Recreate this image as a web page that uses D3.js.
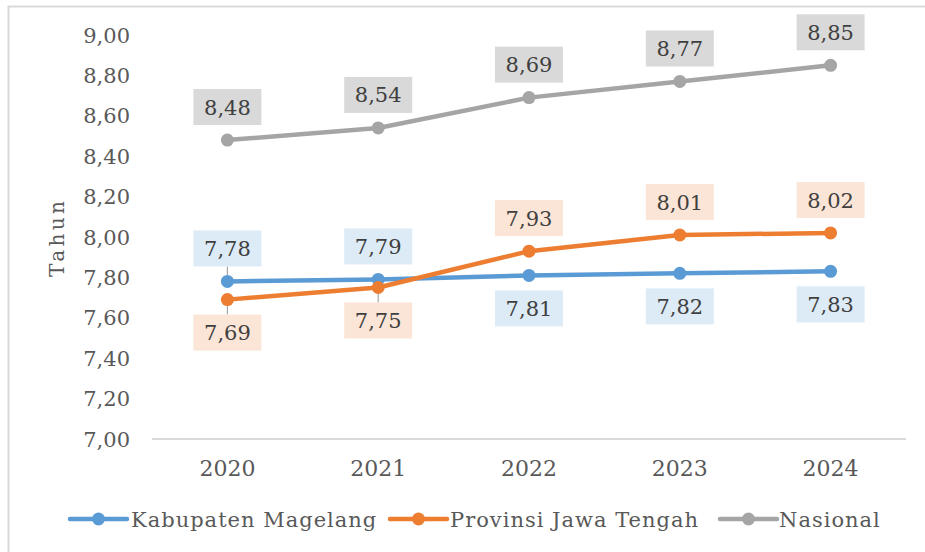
<!DOCTYPE html>
<html>
<head>
<meta charset="utf-8">
<script src="https://cdn.jsdelivr.net/npm/d3@7"></script>
<style>
  body { margin: 0; background: #fff; }
  svg { display: block; font-family: "DejaVu Serif", serif; }
</style>
</head>
<body>
<svg width="925" height="552"></svg>
<script>
var years = ["2020", "2021", "2022", "2023", "2024"];
var magelang = [7.78, 7.79, 7.81, 7.82, 7.83];
var jateng = [7.69, 7.75, 7.93, 8.01, 8.02];
var nasional = [8.48, 8.54, 8.69, 8.77, 8.85];
var yTicks = [7.0, 7.2, 7.4, 7.6, 7.8, 8.0, 8.2, 8.4, 8.6, 8.8, 9.0];

var series = [
  { name: "Kabupaten Magelang", values: magelang, color: "#5B9BD5", box: "#DDEBF7",
    place: ["up", "up", "down", "down", "down"],
    leader: [true, false, false, false, false] },
  { name: "Provinsi Jawa Tengah", values: jateng, color: "#ED7D31", box: "#FBE5D6",
    place: ["down", "down", "up", "up", "up"],
    leader: [true, true, false, false, false] },
  { name: "Nasional", values: nasional, color: "#A5A5A5", box: "#D9D9D9",
    place: ["up", "up", "up", "up", "up"],
    leader: [false, false, false, false, false] },
];

const svg = d3.select("svg");
const fmt = (v) => d3.format(".2f")(v).replace(".", ",");

// frame (only top and left edges show)
svg.append("path")
  .attr("d", "M 8.5 560 L 8.5 6.5 L 930 6.5")
  .attr("fill", "none")
  .attr("stroke", "#D9D9D9")
  .attr("stroke-width", 2);

var x = d3.scalePoint().domain(years).range([152, 906]).padding(0.5);
var y = d3.scaleLinear().domain([7, 9]).range([439, 35]);

// y tick labels
svg.append("g")
  .selectAll("text")
  .data(yTicks)
  .enter()
  .append("text")
  .attr("x", 130)
  .attr("y", (d) => y(d))
  .attr("dy", "0.36em")
  .attr("text-anchor", "end")
  .attr("font-size", 21)
  .attr("fill", "#595959")
  .text((d) => fmt(d));

// x axis line
svg.append("line")
  .attr("x1", 152).attr("x2", 906)
  .attr("y1", y(7)).attr("y2", y(7))
  .attr("stroke", "#D9D9D9")
  .attr("stroke-width", 2);

svg.append("g")
  .selectAll("text")
  .data(years)
  .enter()
  .append("text")
  .attr("x", (d) => x(d))
  .attr("y", 476)
  .attr("text-anchor", "middle")
  .attr("font-size", 22)
  .attr("fill", "#595959")
  .text((d) => d);

// axis title
svg.append("text")
  .attr("transform", "translate(64,239) rotate(-90)")
  .attr("text-anchor", "middle")
  .attr("font-size", 20)
  .attr("textLength", 76)
  .attr("lengthAdjust", "spacing")
  .attr("fill", "#595959")
  .text("Tahun");

var line = d3.line()
  .x((d, i) => x(years[i]))
  .y((d) => y(d));

var lines = svg.append("g");
series.forEach((s) => {
  lines.append("path")
    .attr("d", line(s.values))
    .attr("fill", "none")
    .attr("stroke", s.color)
    .attr("stroke-width", 4.5)
    .attr("stroke-linejoin", "round");
});

// data labels (leaders drawn before markers)
var labels = svg.append("g");
series.forEach((s) => {
  s.values.forEach((v, i) => {
    var cx = x(years[i]);
    var py = y(v);
    var off = s.place[i] === "up" ? -33 : 33;
    var cy = py + off;
    var w = 68, h = 36;
    var edge = s.place[i] === "up" ? cy + h / 2 : cy - h / 2;
    if (s.leader[i]) {
      labels.append("line")
        .attr("x1", cx).attr("x2", cx)
        .attr("y1", edge).attr("y2", py)
        .attr("stroke", "#A6A6A6")
        .attr("stroke-width", 1.2);
    }
    labels.append("rect")
      .attr("x", cx - w / 2)
      .attr("y", cy - h / 2)
      .attr("width", w)
      .attr("height", h)
      .attr("fill", s.box);
    labels.append("text")
      .attr("x", cx)
      .attr("y", cy)
      .attr("dy", "0.36em")
      .attr("text-anchor", "middle")
      .attr("font-size", 21)
      .attr("fill", "#404040")
      .text(fmt(v));
  });
});

var markers = svg.append("g");
series.forEach((s) => {
  markers.selectAll(null)
    .data(s.values)
    .enter()
    .append("circle")
    .attr("cx", (d, i) => x(years[i]))
    .attr("cy", (d) => y(d))
    .attr("r", 6.5)
    .attr("fill", s.color);
});

// legend
var legendPos = [
  { lx: 70, tx: 131 },
  { lx: 390, tx: 450 },
  { lx: 720, tx: 779 },
];
var legend = svg.append("g");
series.forEach((s, i) => {
  var p = legendPos[i];
  legend.append("line")
    .attr("x1", p.lx).attr("x2", p.lx + 57)
    .attr("y1", 519).attr("y2", 519)
    .attr("stroke", s.color)
    .attr("stroke-width", 4.5)
    .attr("stroke-linecap", "round");
  legend.append("circle")
    .attr("cx", p.lx + 28.5)
    .attr("cy", 519)
    .attr("r", 6.5)
    .attr("fill", s.color);
  legend.append("text")
    .attr("x", p.tx)
    .attr("y", 519)
    .attr("dy", "0.36em")
    .attr("font-size", 21)
    .attr("letter-spacing", 1)
    .attr("fill", "#595959")
    .text(s.name);
});
</script>
</body>
</html>
